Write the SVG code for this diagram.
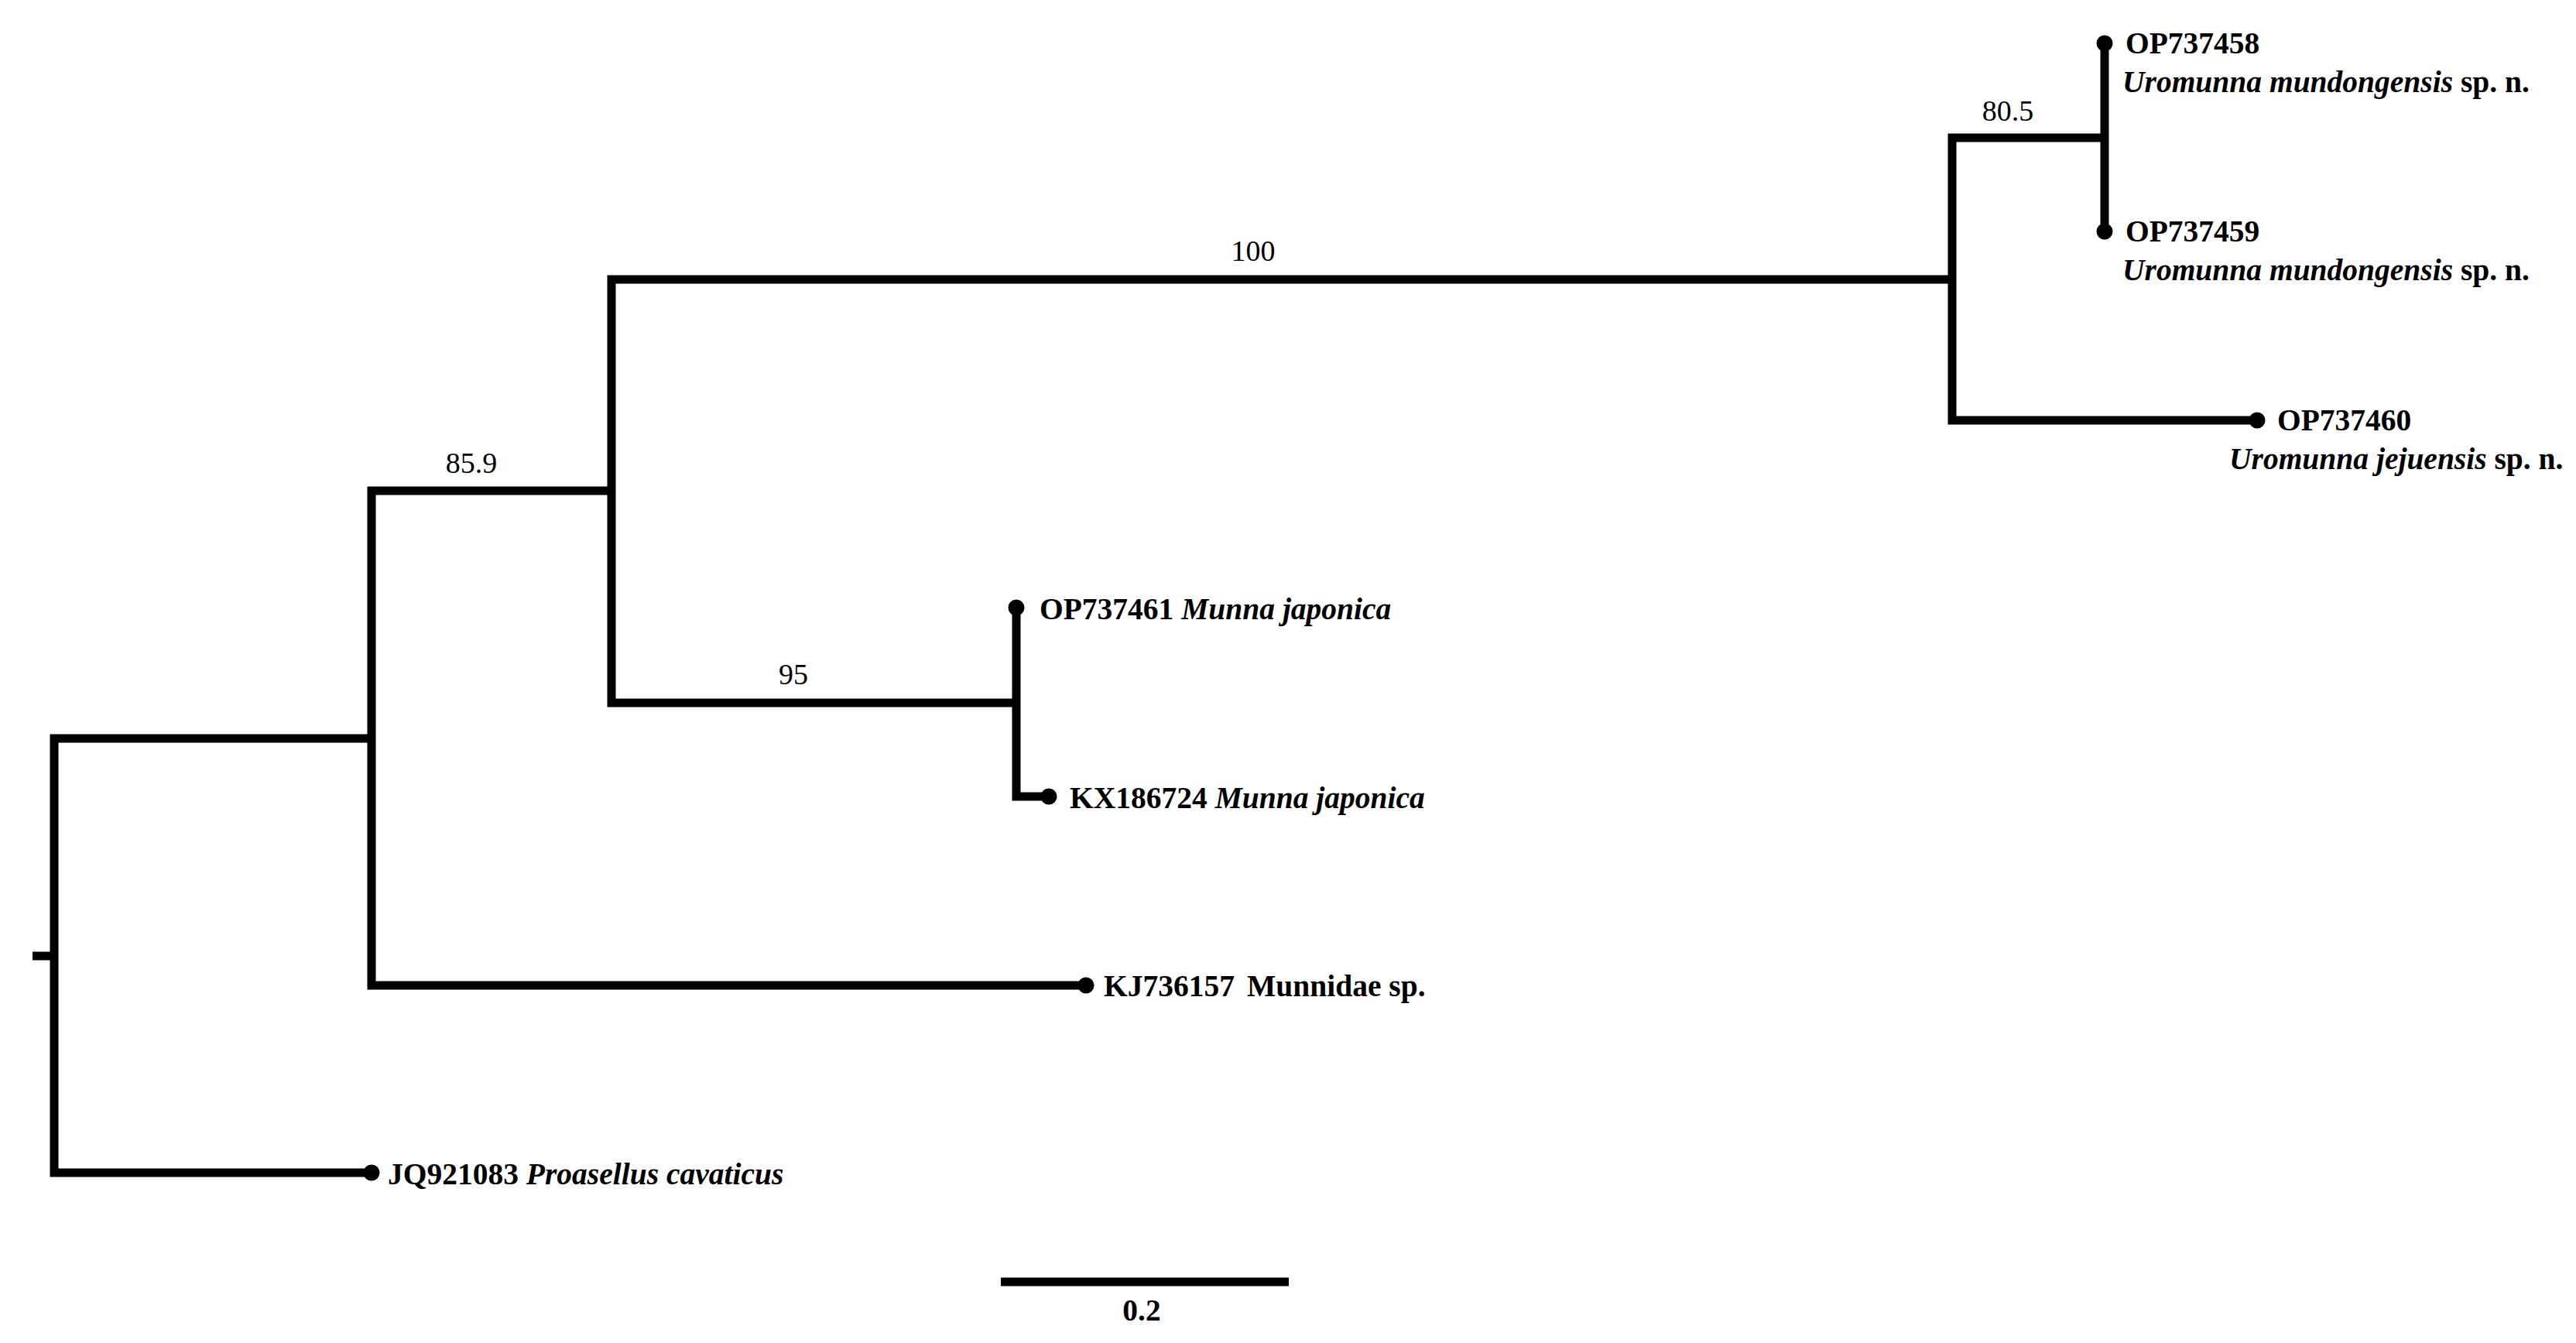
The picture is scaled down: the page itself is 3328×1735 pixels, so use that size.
<svg xmlns="http://www.w3.org/2000/svg" width="3328" height="1735" viewBox="0 0 3328 1735">
<style>
.br{fill:none;stroke:#000;stroke-width:11;stroke-linejoin:miter;stroke-linecap:butt}
.dot{fill:#000}
.tip{font-family:"Liberation Serif","Times New Roman",serif;font-size:39.5px;font-weight:bold;fill:#000}
.it{font-style:italic}
.bs{font-family:"Liberation Serif","Times New Roman",serif;font-size:38px;fill:#000;text-anchor:middle}
</style>
<rect width="3328" height="1735" fill="#fff"/>
<g id="connectors">
<path class="br" d="M42 1235 H70"/>
<path class="br" d="M480 954 H70 V1515 H480"/>
<path class="br" d="M790 634 H480 V1273 H1403"/>
<path class="br" d="M2522 361 H790 V908 H1313"/>
<path class="br" d="M2719 178 H2522 V543 H2916"/>
<path class="br" d="M2719 56 V299"/>
<path class="br" d="M1313 785 V1029 H1355"/>
</g>
<g id="bootstrap">
<text class="bs" x="609" y="611">85.9</text>
<text class="bs" x="1619" y="337">100</text>
<text class="bs" x="1025" y="884">95</text>
<text class="bs" x="2594" y="156">80.5</text>
</g>
<g id="tip-OP737458">
<circle class="dot" cx="2719" cy="56" r="10.5"/>
<text class="tip" x="2746" y="69">OP737458</text>
<text class="tip" x="2742" y="119"><tspan class="it">Uromunna mundongensis</tspan> sp. n.</text>
</g>
<g id="tip-OP737459">
<circle class="dot" cx="2719" cy="299" r="10.5"/>
<text class="tip" x="2746" y="312">OP737459</text>
<text class="tip" x="2742" y="362"><tspan class="it">Uromunna mundongensis</tspan> sp. n.</text>
</g>
<g id="tip-OP737460">
<circle class="dot" cx="2916" cy="543" r="10.5"/>
<text class="tip" x="2942" y="556">OP737460</text>
<text class="tip" x="2880" y="606"><tspan class="it">Uromunna jejuensis</tspan> sp. n.</text>
</g>
<g id="tip-OP737461">
<circle class="dot" cx="1313" cy="785" r="10.5"/>
<text class="tip" x="1343" y="800">OP737461 <tspan class="it">Munna japonica</tspan></text>
</g>
<g id="tip-KX186724">
<circle class="dot" cx="1355" cy="1029" r="10.5"/>
<text class="tip" x="1382" y="1044">KX186724 <tspan class="it">Munna japonica</tspan></text>
</g>
<g id="tip-KJ736157">
<circle class="dot" cx="1403" cy="1273" r="10.5"/>
<text class="tip" x="1426" y="1287">KJ736157</text>
<text class="tip" x="1611" y="1287">Munnidae sp.</text>
</g>
<g id="tip-JQ921083">
<circle class="dot" cx="480" cy="1515" r="10.5"/>
<text class="tip" x="501" y="1530">JQ921083 <tspan class="it">Proasellus cavaticus</tspan></text>
</g>
<g id="scale-bar">
<path class="br" d="M1293 1656 H1665"/>
<text class="tip" x="1475" y="1706" text-anchor="middle" font-size="40">0.2</text>
</g>
</svg>
